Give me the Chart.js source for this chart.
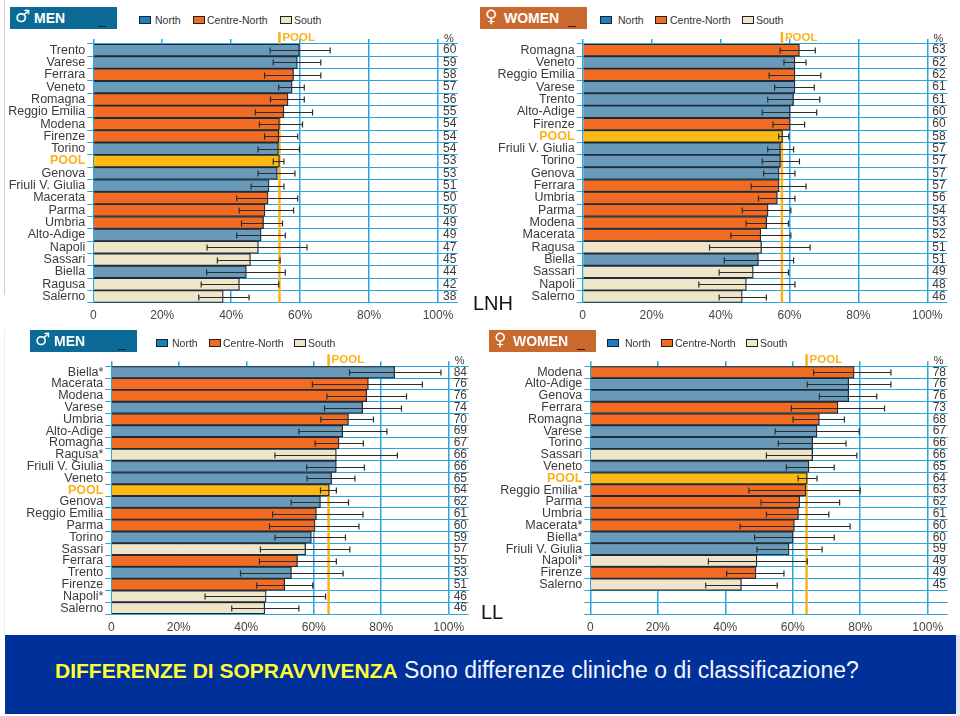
<!DOCTYPE html>
<html>
<head>
<meta charset="utf-8">
<title>Differenze di sopravvivenza</title>
<script src="https://cdn.jsdelivr.net/npm/chart.js@4"></script>
<style>
  html, body { margin: 0; padding: 0; background: #fff; }
  body { position: relative; width: 960px; height: 716px; overflow: hidden; font-family: "Liberation Sans", Arial, sans-serif; }
  canvas { position: absolute; }
  .edge { position: absolute; left: 4px; width: 1px; background: #cfcfcf; }
  .header { position: absolute; width: 107px; height: 22px; color: #fff; font-weight: bold; font-size: 14px; line-height: 22px; }
  .header .sym { position: absolute; left: 5px; top: -1px; font: bold 17px "DejaVu Sans"; }
  .header .name { position: absolute; left: 24px; top: 0; }
  .header .dash { position: absolute; left: 88px; top: 19px; width: 8px; height: 1px; background: #222; }
  .men { background: #0b6a96; }
  .women { background: #c9692d; }
  .key { position: absolute; height: 12px; font-size: 10.5px; line-height: 12px; color: #333; white-space: nowrap; }
  .key i { position: absolute; left: 0; top: 2px; width: 10px; height: 6px; border: 1px solid #222; }
  .key span { position: absolute; top: 0; }
  .tag { position: absolute; font-size: 20px; line-height: 22px; color: #111; }
  #band { position: absolute; left: 5px; top: 635px; width: 951px; height: 79px; background: #00309a; }
  #strip { position: absolute; left: 956px; top: 635px; width: 4px; height: 81px; background: #e4e7f0; }
  #title { position: absolute; left: 55px; top: 657px; font-size: 23px; line-height: 26px; color: #f4f6ff; white-space: nowrap; }
  #title b { color: #ffff33; font-size: 21px; }
</style>
</head>
<body>
<div class="edge" style="top:0;height:295px"></div>
<div class="edge" style="top:330px;height:305px;background:#ececec"></div>

<canvas id="lnhMen" width="470" height="300" style="left:0;top:30px"></canvas>
<canvas id="lnhWomen" width="480" height="300" style="left:480px;top:30px"></canvas>
<canvas id="llMen" width="480" height="282" style="left:0;top:353px"></canvas>
<canvas id="llWomen" width="480" height="282" style="left:480px;top:353px"></canvas>

<div class="tag" style="left:473px;top:292px">LNH</div>
<div class="tag" style="left:481px;top:601px">LL</div>

<div id="band"></div>
<div id="strip"></div>
<div id="title"><b>DIFFERENZE DI SOPRAVVIVENZA</b> Sono differenze cliniche o di classificazione?</div>

<script>
const xTickLabels = ['0', '20%', '40%', '60%', '80%', '100%'];
const keyLabels = ['North', 'Centre-North', 'South'];

// n = North, c = Centre-North, s = South, p = Pool
const lnhMenLabels = ['Trento', 'Varese', 'Ferrara', 'Veneto', 'Romagna', 'Reggio Emilia', 'Modena', 'Firenze', 'Torino', 'POOL', 'Genova', 'Friuli V. Giulia', 'Macerata', 'Parma', 'Umbria', 'Alto-Adige', 'Napoli', 'Sassari', 'Biella', 'Ragusa', 'Salerno'];
const lnhMenRegions = ['n', 'n', 'c', 'n', 'c', 'c', 'c', 'c', 'n', 'p', 'n', 'n', 'c', 'c', 'c', 'n', 's', 's', 'n', 's', 's'];
const lnhMenValues = [59.8, 59.2, 58.1, 57.7, 56.5, 55.3, 54, 53.8, 53.7, 54, 53.4, 51, 50.7, 49.8, 49.4, 48.7, 47.9, 45.6, 44.4, 42.4, 37.7];
const lnhMenLow = [51.3, 52.2, 49.7, 53.8, 51.4, 47, 48.2, 49.7, 47.8, 52.2, 47.8, 45.8, 41.6, 42.3, 43, 41.6, 33, 36, 32.9, 31.3, 30.6];
const lnhMenHigh = [68.7, 66, 66, 61.2, 61.2, 63.6, 60.7, 59.3, 59.8, 55.3, 58.5, 55.3, 59.3, 58.1, 54.9, 55.7, 62, 54.2, 55.7, 53.8, 45.2];
const lnhMenPct = ['60', '59', '58', '57', '56', '55', '54', '54', '54', '53', '53', '51', '50', '50', '49', '49', '47', '45', '44', '42', '38'];
const lnhMenPool = 54;

const lnhWomenLabels = ['Romagna', 'Veneto', 'Reggio Emilia', 'Varese', 'Trento', 'Alto-Adige', 'Firenze', 'POOL', 'Friuli V. Giulia', 'Torino', 'Genova', 'Ferrara', 'Umbria', 'Parma', 'Modena', 'Macerata', 'Ragusa', 'Biella', 'Sassari', 'Napoli', 'Salerno'];
const lnhWomenRegions = ['c', 'n', 'c', 'n', 'n', 'n', 'c', 'p', 'n', 'n', 'n', 'c', 'c', 'c', 'c', 'c', 's', 'n', 's', 's', 's'];
const lnhWomenValues = [62.9, 61.6, 61.6, 61.6, 61.2, 60.2, 60.2, 58, 57.4, 57.4, 57, 57, 56.5, 53.8, 53.4, 51.7, 51.9, 51, 49.5, 47.5, 46.3];
const lnhWomenLow = [57.3, 58.4, 54.1, 55.7, 53.7, 52.1, 55.2, 56.9, 53.7, 52.1, 52.5, 48.9, 51, 46.3, 47.4, 43, 36.8, 41.1, 39.6, 33.7, 39.6];
const lnhWomenHigh = [67.5, 64.8, 69.1, 67.2, 68.8, 67.9, 64.4, 59.8, 61.2, 62.9, 61.6, 64.8, 61.6, 60.4, 59.7, 60.4, 66, 61.2, 59.7, 61.6, 53.3];
const lnhWomenPct = ['63', '62', '62', '61', '61', '60', '60', '58', '57', '57', '57', '57', '56', '54', '53', '52', '51', '51', '49', '48', '46'];
const lnhWomenPool = 57.8;

const llMenLabels = ['Biella*', 'Macerata', 'Modena', 'Varese', 'Umbria', 'Alto-Adige', 'Romagna', 'Ragusa*', 'Friuli V. Giulia', 'Veneto', 'POOL', 'Genova', 'Reggio Emilia', 'Parma', 'Torino', 'Sassari', 'Ferrara', 'Trento', 'Firenze', 'Napoli*', 'Salerno'];
const llMenRegions = ['n', 'c', 'c', 'n', 'c', 'n', 'c', 's', 'n', 'n', 'p', 'n', 'c', 'c', 'n', 's', 'c', 'n', 'c', 's', 's'];
const llMenValues = [84, 76.2, 75.7, 74.5, 70.3, 68.6, 67.5, 66.7, 66.7, 65.3, 64.6, 62, 60.8, 60.4, 59.3, 57.6, 55.2, 53.4, 51.4, 45.9, 45.5];
const llMenLow = [70.6, 59.6, 63.9, 63.2, 62.1, 55.6, 60.4, 48.5, 57.9, 58, 62, 53.3, 47.8, 46.9, 48.5, 44.2, 43.9, 38.3, 43.1, 27.8, 35.7];
const llMenHigh = [97.7, 92.2, 87.5, 86, 77.7, 81.7, 74.7, 84.8, 75, 72.2, 66.7, 70.3, 74.6, 73.4, 69.4, 70.7, 66.7, 68.7, 59.7, 63.5, 55.6];
const llMenPct = ['84', '76', '76', '74', '70', '69', '67', '66', '66', '65', '64', '62', '61', '60', '59', '57', '55', '53', '51', '46', '46'];
const llMenPool = 64.4;

// the last two rows of this panel are empty in the original
const llWomenLabels = ['Modena', 'Alto-Adige', 'Genova', 'Ferrara', 'Romagna', 'Varese', 'Torino', 'Sassari', 'Veneto', 'POOL', 'Reggio Emilia*', 'Parma', 'Umbria', 'Macerata*', 'Biella*', 'Friuli V. Giulia', 'Napoli*', 'Firenze', 'Salerno', '', ' '];
const llWomenRegions = ['c', 'n', 'n', 'c', 'c', 'n', 'n', 's', 'n', 'p', 'c', 'c', 'c', 'c', 'n', 'n', 's', 'c', 's', 's', 's'];
const llWomenValues = [78.2, 76.6, 76.6, 73.4, 67.9, 67.2, 65.9, 65.9, 64.8, 64.3, 63.9, 62.1, 61.7, 60.5, 60.1, 58.9, 49.4, 49.1, 44.8, null, null];
const llWomenLow = [66.2, 64.3, 67.9, 59.6, 60.1, 54.8, 55.7, 52.2, 58.1, 61.6, 47, 50.6, 52.2, 44.4, 48.7, 49.4, 35, 40.4, 34.2, null, null];
const llWomenHigh = [89.1, 89.1, 84.9, 87.2, 75.3, 79.7, 75.8, 79, 72.3, 67.2, 80, 73.9, 70.7, 77, 72.3, 68.7, 64.3, 57.4, 55.4, null, null];
const llWomenPct = ['78', '76', '76', '73', '68', '67', '66', '66', '65', '64', '63', '62', '61', '60', '60', '59', '49', '49', '45', '', ' '];
const llWomenPool = 64.1;

const barColors = { n: '#6a9aba', c: '#f26b22', s: '#efe6ca', p: '#fdb913' };
const keyColors = ['#1a80c6', '#f26b22', '#efe6ca'];
const gridBlue = '#2ba6dc';
const poolOrange = '#fbb21a';
const textColor = '#3a3a3a';

// Draws the pool line under the bars, the error bars over them and the small captions
const panelMarks = {
  id: 'panelMarks',
  beforeDatasetsDraw(chart, args, opts) {
    const ctx = chart.ctx;
    const x = chart.scales.x.getPixelForValue(opts.pool);
    ctx.save();
    ctx.strokeStyle = poolOrange;
    ctx.lineWidth = 2.5;
    ctx.beginPath();
    ctx.moveTo(x, chart.chartArea.top - 12);
    ctx.lineTo(x, chart.chartArea.bottom);
    ctx.stroke();
    ctx.fillStyle = poolOrange;
    ctx.font = 'bold 11.5px "Liberation Sans"';
    ctx.textBaseline = 'middle';
    ctx.fillText('POOL', x + 3, chart.chartArea.top - 6);
    ctx.fillStyle = textColor;
    ctx.font = '11px "Liberation Sans"';
    ctx.textAlign = 'center';
    ctx.fillText('%', chart.chartArea.right + 11, chart.chartArea.top - 5);
    ctx.restore();
  },
  afterDatasetsDraw(chart, args, opts) {
    const ctx = chart.ctx;
    const xs = chart.scales.x;
    const ys = chart.scales.y;
    ctx.save();
    ctx.strokeStyle = '#2b2b2b';
    ctx.lineWidth = 1.2;
    opts.low.forEach((lo, i) => {
      if (lo === null) return;
      const y = Math.round(ys.getPixelForValue(i)) + 0.5;
      const x1 = xs.getPixelForValue(lo);
      const x2 = xs.getPixelForValue(opts.high[i]);
      ctx.beginPath();
      ctx.moveTo(x1, y);
      ctx.lineTo(x2, y);
      ctx.moveTo(x1, y - 3);
      ctx.lineTo(x1, y + 3);
      ctx.moveTo(x2, y - 3);
      ctx.lineTo(x2, y + 3);
      ctx.stroke();
    });
    ctx.restore();
  }
};

function makePanel(id, labels, regions, values, low, high, pct, pool, box) {
  new Chart(document.getElementById(id), {
    type: 'bar',
    plugins: [panelMarks],
    data: {
      labels: labels,
      datasets: [{
        data: values,
        backgroundColor: regions.map(r => barColors[r]),
        borderColor: '#1e2b38',
        borderWidth: 1.3,
        barPercentage: 1,
        categoryPercentage: 1,
        xAxisID: 'x',
        yAxisID: 'y'
      }]
    },
    options: {
      indexAxis: 'y',
      responsive: false,
      animation: false,
      layout: { padding: 0 },
      plugins: {
        legend: { display: false },
        tooltip: { enabled: false },
        panelMarks: { low: low, high: high, pool: pool }
      },
      scales: {
        x: {
          type: 'linear', position: 'bottom', min: 0, max: 100,
          border: { display: false },
          grid: { color: gridBlue, lineWidth: 1.5, drawTicks: false },
          ticks: {
            stepSize: 20, padding: 6, maxRotation: 0, color: '#444',
            font: { family: '"Liberation Sans"', size: 12 },
            callback: (v, i) => xTickLabels[i]
          },
          afterFit: s => { s.height = box.bottom; }
        },
        xTop: {
          type: 'linear', position: 'top', min: 0, max: 100,
          border: { display: false },
          grid: { color: gridBlue, lineWidth: 1.5, drawOnChartArea: false, tickLength: 5 },
          ticks: { stepSize: 20, display: false },
          afterFit: s => { s.height = box.top; }
        },
        y: {
          type: 'category', position: 'left', offset: true,
          border: { display: false },
          grid: { color: gridBlue, lineWidth: 1, offset: true, tickLength: 6 },
          ticks: {
            autoSkip: false, padding: 2,
            color: c => labels[c.index] === 'POOL' ? poolOrange : textColor,
            font: c => ({ family: '"Liberation Sans"', size: 12.5, weight: labels[c.index] === 'POOL' ? 'bold' : 'normal' })
          },
          afterFit: s => { s.width = box.left; }
        },
        yPct: {
          type: 'category', position: 'right', offset: true, labels: pct,
          border: { display: false },
          grid: { color: gridBlue, lineWidth: 1, offset: true, drawOnChartArea: false, tickLength: 20 },
          ticks: {
            autoSkip: false, padding: -15, color: textColor,
            font: { family: '"Liberation Sans"', size: 12 }
          },
          afterFit: s => { s.width = box.right; }
        }
      }
    }
  });
}

// left/right/top/bottom are the margins of the plot inside each canvas
makePanel('lnhMen', lnhMenLabels, lnhMenRegions, lnhMenValues, lnhMenLow, lnhMenHigh, lnhMenPct, lnhMenPool,
  { left: 93.3, right: 32, top: 14, bottom: 27.3 });
makePanel('lnhWomen', lnhWomenLabels, lnhWomenRegions, lnhWomenValues, lnhWomenLow, lnhWomenHigh, lnhWomenPct, lnhWomenPool,
  { left: 102.7, right: 32.7, top: 14, bottom: 27.3 });
makePanel('llMen', llMenLabels, llMenRegions, llMenValues, llMenLow, llMenHigh, llMenPct, llMenPool,
  { left: 111.3, right: 31.3, top: 13.3, bottom: 21 });
makePanel('llWomen', llWomenLabels, llWomenRegions, llWomenValues, llWomenLow, llWomenHigh, llWomenPct, llWomenPool,
  { left: 110.3, right: 32.3, top: 13.3, bottom: 21 });

// Headers and keys are plain html above the canvases
function addHeader(cls, sym, name, left, top) {
  const d = document.createElement('div');
  d.className = 'header ' + cls;
  d.style.left = left + 'px';
  d.style.top = top + 'px';
  d.innerHTML = '<span class="sym">' + sym + '</span><span class="name">' + name + '</span><span class="dash"></span>';
  document.body.appendChild(d);
}

function addKey(top, lefts, textLefts) {
  keyLabels.forEach((label, i) => {
    const d = document.createElement('div');
    d.className = 'key';
    d.style.left = lefts[i] + 'px';
    d.style.top = (top - 2) + 'px';
    d.innerHTML = '<i style="background:' + keyColors[i] + '"></i><span style="left:' + (textLefts[i] - lefts[i]) + 'px">' + label + '</span>';
    document.body.appendChild(d);
  });
}

addHeader('men', '♂', 'MEN', 10, 7);
addHeader('women', '♀', 'WOMEN', 480, 7);
addHeader('men', '♂', 'MEN', 30, 330);
addHeader('women', '♀', 'WOMEN', 489, 330);

addKey(16, [139, 193, 280], [155, 207, 294]);
addKey(16, [600, 655, 742], [618, 670, 756]);
addKey(339, [156, 209, 294], [172, 223, 308]);
addKey(339, [607, 661, 746], [625, 675, 760]);
</script>
</body>
</html>
